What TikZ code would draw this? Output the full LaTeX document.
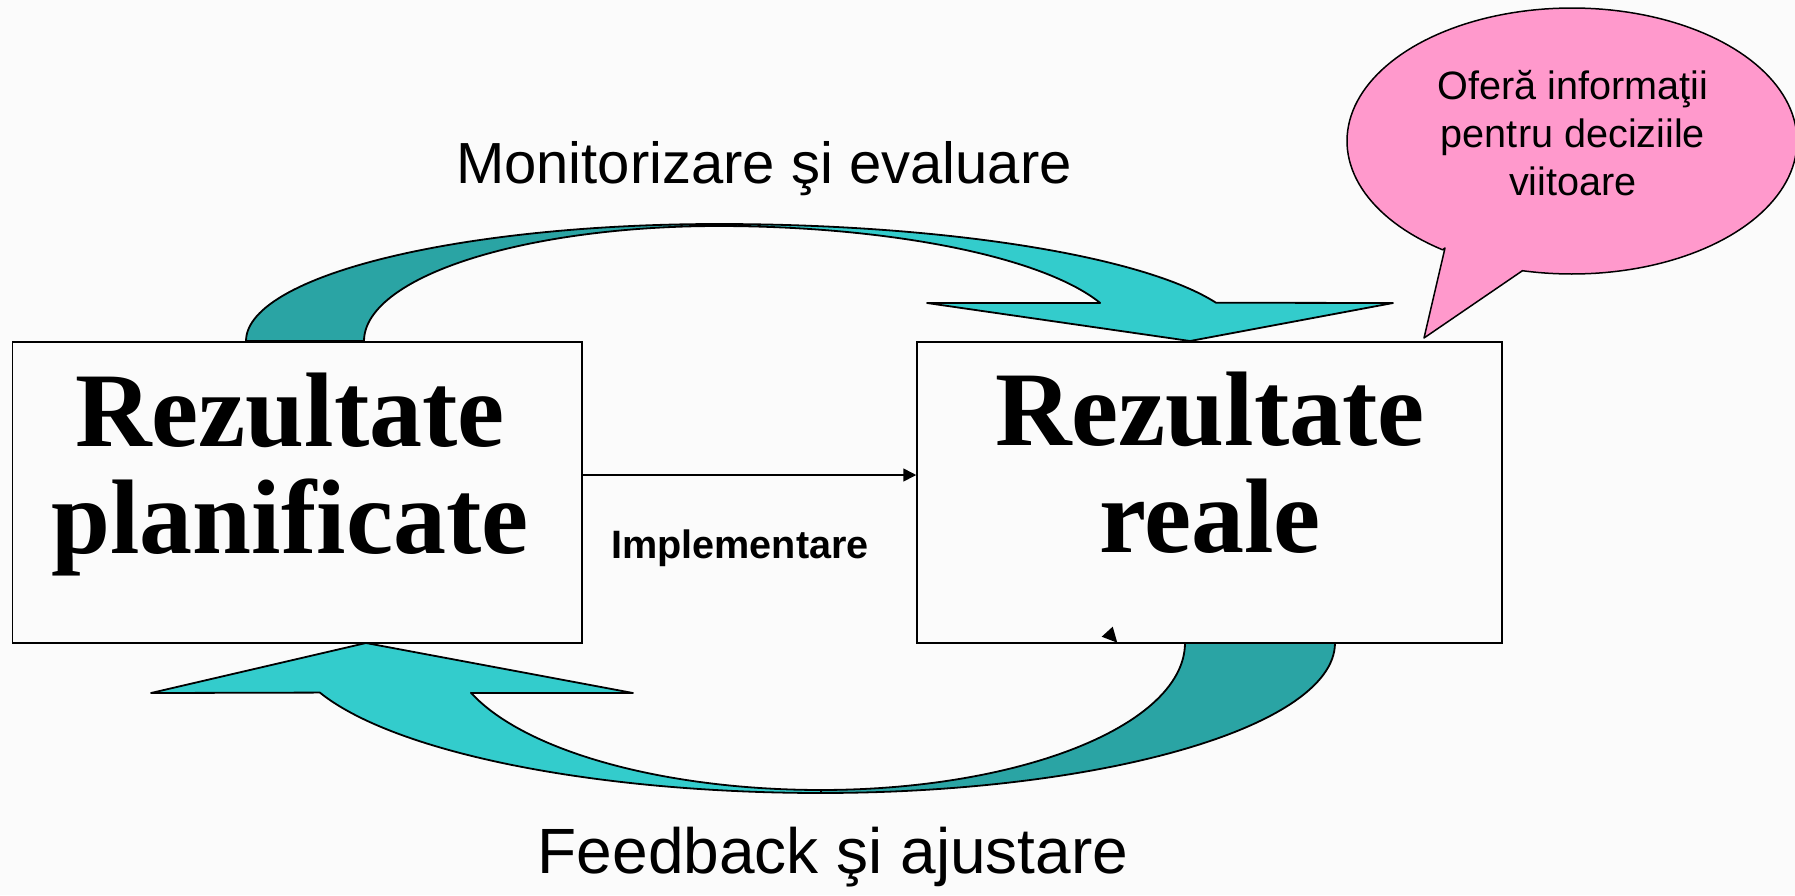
\documentclass[tikz,border=0pt]{standalone}
\usepackage{fontspec}
\setmainfont{Liberation Sans}
\newfontfamily\bigserif{Liberation Serif}
\usetikzlibrary{arrows.meta}
\definecolor{cyanL}{RGB}{51,204,204}
\definecolor{tealD}{RGB}{42,164,164}
\definecolor{pinkB}{RGB}{255,153,204}
\definecolor{bgc}{RGB}{251,251,251}
\begin{document}
\begin{tikzpicture}[x=0.5pt,y=-0.5pt,
  boxstyle/.style={draw=black,line width=0.75pt,inner sep=0pt,minimum height=150.5pt},
  bandstyle/.style={draw=black,line width=0.9pt,line join=round},
  bigtext/.style={font=\bigserif\bfseries\fontsize{53}{53.5}\selectfont,align=center,inner sep=0pt},
  labeltext/.style={inner sep=0pt,anchor=base}]
\fill[bgc] (0,0) rectangle (1795,895);
\useasboundingbox (0,0) rectangle (1795,895);
% top curved arrow
\filldraw[bandstyle,fill=tealD] plot[domain=180:270,samples=60] ({718+472*cos(\x)},{341+117*sin(\x)})
  -- plot[domain=270:180,samples=60] ({718+354*cos(\x)},{341+115*sin(\x)}) -- cycle;
\filldraw[bandstyle,fill=cyanL] plot[domain=270:340.9,samples=60] ({718+527*cos(\x)},{341+117*sin(\x)})
  -- (1393,303) -- (1190,341) -- (927,303) -- (1100,303)
  -- plot[domain=340.6:270,samples=60] ({718+405*cos(\x)},{341+115*sin(\x)}) -- cycle;
% bottom curved arrow
\filldraw[bandstyle,fill=tealD] plot[domain=0:90,samples=60] ({821+514*cos(\x)},{643+150*sin(\x)})
  -- plot[domain=90:0,samples=60] ({821+364*cos(\x)},{643+147*sin(\x)}) -- cycle;
\filldraw[bandstyle,fill=cyanL] plot[domain=90:160.7,samples=60] ({821+531*cos(\x)},{643+150*sin(\x)})
  -- (151,693) -- (366,643) -- (633,693) -- (471,693)
  -- plot[domain=160.2:90,samples=60] ({821+372*cos(\x)},{643+147*sin(\x)}) -- cycle;
% boxes
\node[boxstyle,minimum width=284.7pt] (L) at (297.3,492.5) {};
\node[boxstyle,minimum width=292.5pt] (R) at (1209.5,492.5) {};
\draw[line width=0.8pt,-{Triangle[length=6.5pt,width=6.5pt]}] ([yshift=8.75pt]L.east) -- ([yshift=8.75pt]R.west);
% small stray arrow tip
\fill[black] (1101.7,636.7) -- (1112.7,626.7) -- (1117.3,642.7) -- cycle;
% texts
\node[bigtext] (LT) at (290,474) {Rezultate\\planificate};
\node[bigtext] (RT) at (1210,462.5) {Rezultate\\reale};
\node[labeltext,font=\bfseries\fontsize{19.8}{24}\selectfont] (impl) at (740,558) {Implementare};
\node[labeltext,font=\fontsize{29}{35}\selectfont] (mon) at (764,183) {Monitorizare şi evaluare};
\node[labeltext,font=\fontsize{32}{38}\selectfont] (feed) at (833,873) {Feedback şi ajustare};
% speech bubble
\filldraw[draw=black,line width=0.75pt,fill=pinkB,line join=round] (1445,248) -- (1424,338) -- (1522,271)
  -- plot[domain=102.8:-234.9,samples=160] ({1572+225*cos(\x)},{141+133*sin(\x)}) -- cycle;
\node[inner sep=0pt,align=center,font=\fontsize{19.8}{24}\selectfont] (bub) at (1573,133) {Oferă informaţii\\pentru deciziile\\viitoare};
\end{tikzpicture}
\end{document}
